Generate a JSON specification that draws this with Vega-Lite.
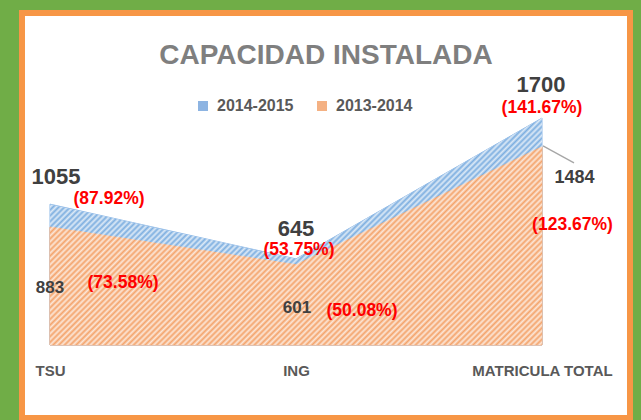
{
  "$schema": "https://vega.github.io/schema/vega-lite/v6.json",
  "width": 608,
  "height": 405,
  "padding": {"left": 22, "top": 13, "right": 11, "bottom": 2},
  "autosize": {"type": "none"},
  "background": "#70AD47",
  "title": {"text": "CAPACIDAD INSTALADA", "font": "Liberation Sans", "fontSize": 28, "fontWeight": "bold", "color": "#7F7F7F", "anchor": "middle", "frame": "group", "offset": -57},
  "config": {
    "view": {"fill": "#FFFFFF", "stroke": "#F79646", "strokeWidth": 6},
    "axis": {"labelFont": "Liberation Sans", "labelFontSize": 15, "labelFontWeight": "bold", "labelColor": "#595959", "domain": false, "ticks": false, "tickSize": 0, "labelPadding": 0, "grid": false, "labelOverlap": false, "labelBound": false, "labelFlush": false}
  },
  "data": {"values": [
    {"cat": "TSU", "series": "2014-2015", "value": 1055, "pct": "(87.92%)"},
    {"cat": "ING", "series": "2014-2015", "value": 645, "pct": "(53.75%)"},
    {"cat": "MATRICULA TOTAL", "series": "2014-2015", "value": 1700, "pct": "(141.67%)"},
    {"cat": "TSU", "series": "2013-2014", "value": 883, "pct": "(73.58%)"},
    {"cat": "ING", "series": "2013-2014", "value": 601, "pct": "(50.08%)"},
    {"cat": "MATRICULA TOTAL", "series": "2013-2014", "value": 1484, "pct": "(123.67%)"}
  ]},
  "encoding": {
    "x": {"field": "cat", "type": "nominal", "sort": ["TSU", "ING", "MATRICULA TOTAL"], "scale": {"type": "point", "padding": 0.2358, "align": 0.2414}, "axis": {"title": null, "labelAngle": 0, "labelBaseline": "top", "offset": -55}},
    "y": {"field": "value", "type": "quantitative", "scale": {"domain": [-547, 2487], "nice": false, "zero": false}, "axis": null}
  },
  "layer": [
    {"transform": [{"filter": "datum.series === '2014-2015'"}], "mark": {"type": "area", "fill": "#7EAFE0", "stroke": "#8DB8E6", "strokeWidth": 1}, "encoding": {"y2": {"datum": 0}}},
    {"transform": [{"filter": "datum.series === '2013-2014'"}], "mark": {"type": "area", "fill": "#F4A46C", "stroke": "#F4A46C", "strokeWidth": 1}, "encoding": {"y2": {"datum": 0}}},
    {"transform": [{"filter": "datum.series === '2014-2015'"}], "mark": {"type": "area", "strokeWidth": 0, "fill": {"gradient": "linear", "x1": 0, "y1": 0, "x2": 1.205, "y2": 0.556, "stops": [
{"offset":0.000,"color":"#fff0"},{"offset":0.004,"color":"#fffb"},{"offset":0.008,"color":"#fff0"},{"offset":0.012,"color":"#fffb"},{"offset":0.016,"color":"#fff0"},{"offset":0.020,"color":"#fffb"},{"offset":0.024,"color":"#fff0"},{"offset":0.028,"color":"#fffb"},{"offset":0.032,"color":"#fff0"},{"offset":0.036,"color":"#fffb"},{"offset":0.040,"color":"#fff0"},{"offset":0.044,"color":"#fffb"},{"offset":0.048,"color":"#fff0"},{"offset":0.052,"color":"#fffb"},{"offset":0.056,"color":"#fff0"},{"offset":0.060,"color":"#fffb"},{"offset":0.064,"color":"#fff0"},{"offset":0.068,"color":"#fffb"},{"offset":0.072,"color":"#fff0"},{"offset":0.076,"color":"#fffb"},{"offset":0.080,"color":"#fff0"},{"offset":0.084,"color":"#fffb"},{"offset":0.088,"color":"#fff0"},{"offset":0.092,"color":"#fffb"},{"offset":0.096,"color":"#fff0"},
{"offset":0.100,"color":"#fffb"},{"offset":0.104,"color":"#fff0"},{"offset":0.108,"color":"#fffb"},{"offset":0.112,"color":"#fff0"},{"offset":0.116,"color":"#fffb"},{"offset":0.120,"color":"#fff0"},{"offset":0.124,"color":"#fffb"},{"offset":0.128,"color":"#fff0"},{"offset":0.132,"color":"#fffb"},{"offset":0.136,"color":"#fff0"},{"offset":0.140,"color":"#fffb"},{"offset":0.144,"color":"#fff0"},{"offset":0.148,"color":"#fffb"},{"offset":0.152,"color":"#fff0"},{"offset":0.156,"color":"#fffb"},{"offset":0.160,"color":"#fff0"},{"offset":0.164,"color":"#fffb"},{"offset":0.168,"color":"#fff0"},{"offset":0.172,"color":"#fffb"},{"offset":0.176,"color":"#fff0"},{"offset":0.180,"color":"#fffb"},{"offset":0.184,"color":"#fff0"},{"offset":0.188,"color":"#fffb"},{"offset":0.192,"color":"#fff0"},{"offset":0.196,"color":"#fffb"},
{"offset":0.200,"color":"#fff0"},{"offset":0.204,"color":"#fffb"},{"offset":0.208,"color":"#fff0"},{"offset":0.212,"color":"#fffb"},{"offset":0.216,"color":"#fff0"},{"offset":0.220,"color":"#fffb"},{"offset":0.224,"color":"#fff0"},{"offset":0.228,"color":"#fffb"},{"offset":0.232,"color":"#fff0"},{"offset":0.236,"color":"#fffb"},{"offset":0.240,"color":"#fff0"},{"offset":0.244,"color":"#fffb"},{"offset":0.248,"color":"#fff0"},{"offset":0.252,"color":"#fffb"},{"offset":0.256,"color":"#fff0"},{"offset":0.260,"color":"#fffb"},{"offset":0.264,"color":"#fff0"},{"offset":0.268,"color":"#fffb"},{"offset":0.272,"color":"#fff0"},{"offset":0.276,"color":"#fffb"},{"offset":0.280,"color":"#fff0"},{"offset":0.284,"color":"#fffb"},{"offset":0.288,"color":"#fff0"},{"offset":0.292,"color":"#fffb"},{"offset":0.296,"color":"#fff0"},
{"offset":0.300,"color":"#fffb"},{"offset":0.304,"color":"#fff0"},{"offset":0.308,"color":"#fffb"},{"offset":0.312,"color":"#fff0"},{"offset":0.316,"color":"#fffb"},{"offset":0.320,"color":"#fff0"},{"offset":0.324,"color":"#fffb"},{"offset":0.328,"color":"#fff0"},{"offset":0.332,"color":"#fffb"},{"offset":0.336,"color":"#fff0"},{"offset":0.340,"color":"#fffb"},{"offset":0.344,"color":"#fff0"},{"offset":0.348,"color":"#fffb"},{"offset":0.352,"color":"#fff0"},{"offset":0.356,"color":"#fffb"},{"offset":0.360,"color":"#fff0"},{"offset":0.364,"color":"#fffb"},{"offset":0.368,"color":"#fff0"},{"offset":0.372,"color":"#fffb"},{"offset":0.376,"color":"#fff0"},{"offset":0.380,"color":"#fffb"},{"offset":0.384,"color":"#fff0"},{"offset":0.388,"color":"#fffb"},{"offset":0.392,"color":"#fff0"},{"offset":0.396,"color":"#fffb"},
{"offset":0.400,"color":"#fff0"},{"offset":0.404,"color":"#fffb"},{"offset":0.408,"color":"#fff0"},{"offset":0.412,"color":"#fffb"},{"offset":0.416,"color":"#fff0"},{"offset":0.420,"color":"#fffb"},{"offset":0.424,"color":"#fff0"},{"offset":0.428,"color":"#fffb"},{"offset":0.432,"color":"#fff0"},{"offset":0.436,"color":"#fffb"},{"offset":0.440,"color":"#fff0"},{"offset":0.444,"color":"#fffb"},{"offset":0.448,"color":"#fff0"},{"offset":0.452,"color":"#fffb"},{"offset":0.456,"color":"#fff0"},{"offset":0.460,"color":"#fffb"},{"offset":0.464,"color":"#fff0"},{"offset":0.468,"color":"#fffb"},{"offset":0.472,"color":"#fff0"},{"offset":0.476,"color":"#fffb"},{"offset":0.480,"color":"#fff0"},{"offset":0.484,"color":"#fffb"},{"offset":0.488,"color":"#fff0"},{"offset":0.492,"color":"#fffb"},{"offset":0.496,"color":"#fff0"},
{"offset":0.500,"color":"#fffb"},{"offset":0.504,"color":"#fff0"},{"offset":0.508,"color":"#fffb"},{"offset":0.512,"color":"#fff0"},{"offset":0.516,"color":"#fffb"},{"offset":0.520,"color":"#fff0"},{"offset":0.524,"color":"#fffb"},{"offset":0.528,"color":"#fff0"},{"offset":0.532,"color":"#fffb"},{"offset":0.536,"color":"#fff0"},{"offset":0.540,"color":"#fffb"},{"offset":0.544,"color":"#fff0"},{"offset":0.548,"color":"#fffb"},{"offset":0.552,"color":"#fff0"},{"offset":0.556,"color":"#fffb"},{"offset":0.560,"color":"#fff0"},{"offset":0.564,"color":"#fffb"},{"offset":0.568,"color":"#fff0"},{"offset":0.572,"color":"#fffb"},{"offset":0.576,"color":"#fff0"},{"offset":0.580,"color":"#fffb"},{"offset":0.584,"color":"#fff0"},{"offset":0.588,"color":"#fffb"},{"offset":0.592,"color":"#fff0"},{"offset":0.596,"color":"#fffb"},
{"offset":0.600,"color":"#fff0"},{"offset":0.604,"color":"#fffb"},{"offset":0.608,"color":"#fff0"},{"offset":0.612,"color":"#fffb"},{"offset":0.616,"color":"#fff0"},{"offset":0.620,"color":"#fffb"},{"offset":0.624,"color":"#fff0"},{"offset":0.628,"color":"#fffb"},{"offset":0.632,"color":"#fff0"},{"offset":0.636,"color":"#fffb"},{"offset":0.640,"color":"#fff0"},{"offset":0.644,"color":"#fffb"},{"offset":0.648,"color":"#fff0"},{"offset":0.652,"color":"#fffb"},{"offset":0.656,"color":"#fff0"},{"offset":0.660,"color":"#fffb"},{"offset":0.664,"color":"#fff0"},{"offset":0.668,"color":"#fffb"},{"offset":0.672,"color":"#fff0"},{"offset":0.676,"color":"#fffb"},{"offset":0.680,"color":"#fff0"},{"offset":0.684,"color":"#fffb"},{"offset":0.688,"color":"#fff0"},{"offset":0.692,"color":"#fffb"},{"offset":0.696,"color":"#fff0"},
{"offset":0.700,"color":"#fffb"},{"offset":0.704,"color":"#fff0"},{"offset":0.708,"color":"#fffb"},{"offset":0.712,"color":"#fff0"},{"offset":0.716,"color":"#fffb"},{"offset":0.720,"color":"#fff0"},{"offset":0.724,"color":"#fffb"},{"offset":0.728,"color":"#fff0"},{"offset":0.732,"color":"#fffb"},{"offset":0.736,"color":"#fff0"},{"offset":0.740,"color":"#fffb"},{"offset":0.744,"color":"#fff0"},{"offset":0.748,"color":"#fffb"},{"offset":0.752,"color":"#fff0"},{"offset":0.756,"color":"#fffb"},{"offset":0.760,"color":"#fff0"},{"offset":0.764,"color":"#fffb"},{"offset":0.768,"color":"#fff0"},{"offset":0.772,"color":"#fffb"},{"offset":0.776,"color":"#fff0"},{"offset":0.780,"color":"#fffb"},{"offset":0.784,"color":"#fff0"},{"offset":0.788,"color":"#fffb"},{"offset":0.792,"color":"#fff0"},{"offset":0.796,"color":"#fffb"},
{"offset":0.800,"color":"#fff0"},{"offset":0.804,"color":"#fffb"},{"offset":0.808,"color":"#fff0"},{"offset":0.812,"color":"#fffb"},{"offset":0.816,"color":"#fff0"},{"offset":0.820,"color":"#fffb"},{"offset":0.824,"color":"#fff0"},{"offset":0.828,"color":"#fffb"},{"offset":0.832,"color":"#fff0"},{"offset":0.836,"color":"#fffb"},{"offset":0.840,"color":"#fff0"},{"offset":0.844,"color":"#fffb"},{"offset":0.848,"color":"#fff0"},{"offset":0.852,"color":"#fffb"},{"offset":0.856,"color":"#fff0"},{"offset":0.860,"color":"#fffb"},{"offset":0.864,"color":"#fff0"},{"offset":0.868,"color":"#fffb"},{"offset":0.872,"color":"#fff0"},{"offset":0.876,"color":"#fffb"},{"offset":0.880,"color":"#fff0"},{"offset":0.884,"color":"#fffb"},{"offset":0.888,"color":"#fff0"},{"offset":0.892,"color":"#fffb"},{"offset":0.896,"color":"#fff0"},
{"offset":0.900,"color":"#fffb"},{"offset":0.904,"color":"#fff0"},{"offset":0.908,"color":"#fffb"},{"offset":0.912,"color":"#fff0"},{"offset":0.916,"color":"#fffb"},{"offset":0.920,"color":"#fff0"},{"offset":0.924,"color":"#fffb"},{"offset":0.928,"color":"#fff0"},{"offset":0.932,"color":"#fffb"},{"offset":0.936,"color":"#fff0"},{"offset":0.940,"color":"#fffb"},{"offset":0.944,"color":"#fff0"},{"offset":0.948,"color":"#fffb"},{"offset":0.952,"color":"#fff0"},{"offset":0.956,"color":"#fffb"},{"offset":0.960,"color":"#fff0"},{"offset":0.964,"color":"#fffb"},{"offset":0.968,"color":"#fff0"},{"offset":0.972,"color":"#fffb"},{"offset":0.976,"color":"#fff0"},{"offset":0.980,"color":"#fffb"},{"offset":0.984,"color":"#fff0"},{"offset":0.988,"color":"#fffb"},{"offset":0.992,"color":"#fff0"},{"offset":0.996,"color":"#fffb"},
{"offset":1.000,"color":"#fff0"}
      ]}}, "encoding": {"y2": {"datum": 0}}},
    {"transform": [{"filter": "datum.cat === 'MATRICULA TOTAL' && datum.series === '2013-2014'"}], "mark": {"type": "rule", "color": "#A6A6A6", "strokeWidth": 1.3, "xOffset": 1, "yOffset": -1, "x2Offset": 32, "y2Offset": 16}, "encoding": {"x2": {"field": "cat"}, "y2": {"field": "value"}}},
    {"mark": {"type": "point", "filled": true, "opacity": 0, "shape": "square"}, "encoding": {"color": {"field": "series", "type": "nominal", "scale": {"domain": ["2014-2015", "2013-2014"], "range": ["#8DB4E2", "#F4B183"]}, "legend": {"title": null, "orient": "none", "legendX": 173, "legendY": 85, "direction": "horizontal", "padding": 0, "labelFont": "Liberation Sans", "labelFontSize": 16, "labelFontWeight": "bold", "labelColor": "#595959", "symbolType": "square", "symbolSize": 100, "symbolStrokeWidth": 0, "symbolOpacity": 1, "labelOffset": 6, "columnPadding": 20}}}},
    {"transform": [{"filter": "datum.cat === 'TSU' && datum.series === '2014-2015'"}], "mark": {"type": "text", "dx": 6, "dy": -27, "font": "Liberation Sans", "fontSize": 22, "fontWeight": "bold", "fill": "#404040", "baseline": "middle"}, "encoding": {"text": {"field": "value", "type": "quantitative", "format": "d"}}},
    {"transform": [{"filter": "datum.cat === 'TSU' && datum.series === '2014-2015'"}], "mark": {"type": "text", "dx": 59, "dy": -5, "font": "Liberation Sans", "fontSize": 17.5, "fontWeight": "bold", "fill": "#FF0000", "baseline": "middle"}, "encoding": {"text": {"field": "pct"}}},
    {"transform": [{"filter": "datum.cat === 'ING' && datum.series === '2014-2015'"}], "mark": {"type": "text", "dx": 0, "dy": -30, "font": "Liberation Sans", "fontSize": 22, "fontWeight": "bold", "fill": "#404040", "baseline": "middle"}, "encoding": {"text": {"field": "value", "type": "quantitative", "format": "d"}}},
    {"transform": [{"filter": "datum.cat === 'ING' && datum.series === '2014-2015'"}], "mark": {"type": "text", "dx": 3, "dy": -9, "font": "Liberation Sans", "fontSize": 17.5, "fontWeight": "bold", "fill": "#FF0000", "baseline": "middle"}, "encoding": {"text": {"field": "pct"}}},
    {"transform": [{"filter": "datum.cat === 'MATRICULA TOTAL' && datum.series === '2014-2015'"}], "mark": {"type": "text", "dx": -1, "dy": -33, "font": "Liberation Sans", "fontSize": 22, "fontWeight": "bold", "fill": "#404040", "baseline": "middle"}, "encoding": {"text": {"field": "value", "type": "quantitative", "format": "d"}}},
    {"transform": [{"filter": "datum.cat === 'MATRICULA TOTAL' && datum.series === '2014-2015'"}], "mark": {"type": "text", "dx": 0, "dy": -10.5, "font": "Liberation Sans", "fontSize": 17.5, "fontWeight": "bold", "fill": "#FF0000", "baseline": "middle"}, "encoding": {"text": {"field": "pct"}}},
    {"transform": [{"filter": "datum.cat === 'TSU' && datum.series === '2013-2014'"}], "mark": {"type": "text", "dx": 0, "dy": 61, "font": "Liberation Sans", "fontSize": 17, "fontWeight": "bold", "fill": "#404040", "baseline": "middle"}, "encoding": {"text": {"field": "value", "type": "quantitative", "format": "d"}}},
    {"transform": [{"filter": "datum.cat === 'TSU' && datum.series === '2013-2014'"}], "mark": {"type": "text", "dx": 73, "dy": 56, "font": "Liberation Sans", "fontSize": 17.5, "fontWeight": "bold", "fill": "#FF0000", "baseline": "middle"}, "encoding": {"text": {"field": "pct"}}},
    {"transform": [{"filter": "datum.cat === 'ING' && datum.series === '2013-2014'"}], "mark": {"type": "text", "dx": 1, "dy": 43, "font": "Liberation Sans", "fontSize": 17, "fontWeight": "bold", "fill": "#404040", "baseline": "middle"}, "encoding": {"text": {"field": "value", "type": "quantitative", "format": "d"}}},
    {"transform": [{"filter": "datum.cat === 'ING' && datum.series === '2013-2014'"}], "mark": {"type": "text", "dx": 66, "dy": 46, "font": "Liberation Sans", "fontSize": 17.5, "fontWeight": "bold", "fill": "#FF0000", "baseline": "middle"}, "encoding": {"text": {"field": "pct"}}},
    {"transform": [{"filter": "datum.cat === 'MATRICULA TOTAL' && datum.series === '2013-2014'"}], "mark": {"type": "text", "dx": 32.5, "dy": 31, "font": "Liberation Sans", "fontSize": 18, "fontWeight": "bold", "fill": "#404040", "baseline": "middle"}, "encoding": {"text": {"field": "value", "type": "quantitative", "format": "d"}}},
    {"transform": [{"filter": "datum.cat === 'MATRICULA TOTAL' && datum.series === '2013-2014'"}], "mark": {"type": "text", "dx": 30.5, "dy": 78, "font": "Liberation Sans", "fontSize": 17.5, "fontWeight": "bold", "fill": "#FF0000", "baseline": "middle"}, "encoding": {"text": {"field": "pct"}}}
  ]
}
